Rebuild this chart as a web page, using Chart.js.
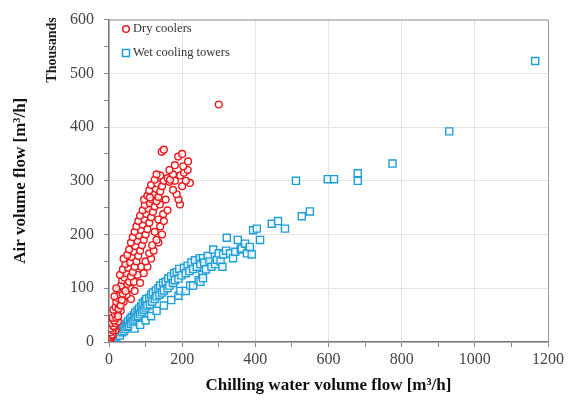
<!DOCTYPE html>
<html lang="en">
<head>
    <meta charset="utf-8" />
    <title>Air volume flow vs chilling water volume flow</title>
    <script src="https://cdn.jsdelivr.net/npm/chart.js"></script>
    <style>
        html, body { margin: 0; padding: 0; background: #fff; }
        #wrap { width: 571px; height: 408px; }
    </style>
</head>
<body>
    <div id="wrap"><canvas id="chart" width="571" height="408"></canvas></div>

    <script>
        // [chilling water m3/h, air volume flow (thousands m3/h)]
        const dryCoolers = [
            [0,0],[3,2],[2,5],[6,8],[4,10],[10,12],[8,14],[5,18],[18,22],[10,22],[6,25],[15,28],[12,30],[8,35],
            [18,35],[25,38],[14,40],[10,45],[20,45],[16,52],[32,58],[22,55],[25,48],[12,60],[18,65],[26,62],
            [28,70],[40,75],[20,75],[32,68],[60,80],[24,82],[30,88],[48,88],[35,78],[15,85],[38,90],[28,98],
            [40,100],[58,100],[33,105],[45,95],[20,100],[50,108],[70,95],[36,115],[42,120],[55,112],[68,112],
            [85,110],[30,125],[48,128],[60,122],[78,125],[95,128],[38,135],[52,138],[65,130],[88,140],[105,140],
            [45,145],[58,148],[70,140],[100,150],[115,155],[40,155],[62,158],[75,150],[50,162],[68,168],[80,160],
            [110,165],[122,170],[55,172],[72,178],[85,170],[118,180],[60,185],[78,188],[90,180],[135,185],
            [130,190],[65,195],[82,198],[95,190],[145,200],[70,205],[88,208],[100,200],[125,205],[75,215],
            [92,218],[105,210],[140,215],[80,225],[97,228],[110,222],[135,228],[150,225],[85,235],[102,238],
            [115,232],[148,238],[92,245],[108,248],[120,242],[160,245],[98,255],[112,258],[125,252],[139,256],
            [194,256],[96,265],[118,265],[130,262],[155,265],[190,265],[105,272],[122,275],[135,270],[112,269],
            [185,275],[110,282],[128,285],[140,280],[175,283],[115,292],[132,295],[145,290],[200,290],[125,302],
            [150,300],[165,298],[180,300],[221,296],[210,300],[140,310],[160,305],[167,302],[130,312],[175,312],
            [195,310],[205,315],[215,320],[165,320],[180,329],[203,327],[216,336],[189,345],[200,350],[144,354],
            [150,358],[300,442]
        ];
        const wetTowers = [
            [0,0],[2,2],[5,4],[8,8],[10,5],[12,10],[15,8],[18,14],[20,10],[22,18],[25,14],[28,20],[30,12],
            [32,24],[35,18],[38,26],[40,20],[42,30],[45,24],[48,34],[50,28],[52,38],[55,30],[58,42],[60,34],
            [62,46],[65,38],[68,50],[70,25],[70,42],[72,55],[75,46],[78,58],[80,48],[82,62],[85,32],[85,52],
            [88,66],[90,56],[92,72],[95,60],[98,76],[100,40],[100,64],[102,80],[105,68],[110,82],[112,70],
            [115,48],[115,88],[118,75],[120,92],[125,80],[128,96],[130,58],[130,85],[135,100],[138,88],
            [140,105],[145,92],[148,110],[150,68],[150,96],[155,112],[160,100],[162,118],[165,105],[170,78],
            [170,122],[175,110],[178,128],[180,115],[185,130],[190,86],[190,118],[192,136],[195,95],[198,124],
            [205,138],[210,95],[210,128],[215,142],[220,132],[222,105],[225,148],[230,105],[230,136],[235,152],
            [240,140],[245,115],[248,156],[250,112],[250,145],[255,125],[257,119],[257,156],[260,148],[265,135],
            [270,160],[275,150],[280,140],[285,172],[290,145],[295,153],[300,165],[305,150],[310,140],[312,163],
            [320,170],[322,194],[331,165],[339,156],[345,168],[352,190],[360,172],[363,174],[372,183],[377,165],
            [385,177],[390,163],[394,208],[404,211],[413,190],[445,220],[462,225],[481,211],[527,234],[549,243],
            [511,300],[598,303],[615,303],[680,314],[680,300],[775,332],[930,392],[1165,523]
        ];
        const seriesNames = ['Dry coolers', 'Wet cooling towers'];
        const xTicks = [0, 200, 400, 600, 800, 1000, 1200];
        const yTicks = [0, 100, 200, 300, 400, 500, 600];

        const red = '#e8191c';
        const blue = '#1e9ed8';
        const serif = '"Liberation Serif", "DejaVu Serif", serif';

        function toPoints(arr) {
            return arr.map(function (p) { return { x: p[0], y: p[1] }; });
        }

        // legend inside the plot + "Thousands" + top/right frame
        const extras = {
            id: 'extras',
            afterDraw: function (chart) {
                var ctx = chart.ctx;
                var a = chart.chartArea;
                ctx.save();
                ctx.strokeStyle = '#9a9a9a';
                ctx.lineWidth = 1;
                ctx.beginPath();
                ctx.moveTo(a.left, a.top + 0.5);
                ctx.lineTo(a.right + 0.5, a.top + 0.5);
                ctx.lineTo(a.right + 0.5, a.bottom);
                ctx.stroke();

                ctx.font = '12.5px ' + serif;
                ctx.fillStyle = '#333';
                ctx.textBaseline = 'middle';
                ctx.lineWidth = 1.5;
                ctx.strokeStyle = red;
                ctx.beginPath();
                ctx.arc(126, 29, 3.3, 0, Math.PI * 2);
                ctx.stroke();
                ctx.fillText(seriesNames[0], 133, 29);
                ctx.strokeStyle = blue;
                ctx.strokeRect(122.5, 49.5, 7, 7);
                ctx.fillText(seriesNames[1], 133, 53);

                ctx.translate(52, 50);
                ctx.rotate(-Math.PI / 2);
                ctx.textAlign = 'center';
                ctx.font = 'bold 14px ' + serif;
                ctx.fillStyle = '#222';
                ctx.fillText('Thousands', 0, 0);
                ctx.restore();
            }
        };

        new Chart(document.getElementById('chart'), {
            type: 'scatter',
            data: {
                datasets: [{
                    label: seriesNames[0],
                    data: toPoints(dryCoolers),
                    pointStyle: 'circle',
                    pointRadius: 3.4,
                    borderWidth: 1.4,
                    borderColor: red,
                    backgroundColor: 'rgba(255,255,255,0.75)'
                }, {
                    label: seriesNames[1],
                    data: toPoints(wetTowers),
                    pointStyle: 'rect',
                    pointRadius: 5,
                    borderWidth: 1.4,
                    borderColor: blue,
                    backgroundColor: 'rgba(255,255,255,0.75)'
                }]
            },
            options: {
                responsive: false,
                animation: false,
                layout: { padding: { top: 14, right: 23, left: 0, bottom: 0 } },
                plugins: {
                    legend: { display: false },
                    tooltip: { enabled: false }
                },
                scales: {
                    x: {
                        type: 'linear',
                        min: 0,
                        max: 1200,
                        afterFit: function (s) { s.height = 66; },
                        afterBuildTicks: function (s) {
                            var t = [];
                            for (var v = 0; v <= 1200; v += 100) t.push({ value: v });
                            s.ticks = t;
                        },
                        ticks: {
                            padding: 3,
                            autoSkip: false,
                            maxRotation: 0,
                            minRotation: 0,
                            color: '#444',
                            font: { family: serif, size: 16 },
                            callback: function (v) { return xTicks.indexOf(v) >= 0 ? String(v) : ''; }
                        },
                        grid: {
                            color: function (c) { return c.tick && c.tick.value % 200 === 0 ? '#e4e4e4' : 'rgba(0,0,0,0)'; },
                            tickColor: '#888',
                            tickLength: 5
                        },
                        border: { color: '#777', width: 1.5 },
                        title: {
                            display: true,
                            text: 'Chilling water volume flow [m\u00b3/h]',
                            color: '#111',
                            font: { family: serif, size: 17, weight: 'bold' },
                            padding: { top: 0, bottom: 12 }
                        }
                    },
                    y: {
                        type: 'linear',
                        min: 0,
                        max: 600,
                        afterFit: function (s) { s.width = 109; },
                        afterBuildTicks: function (s) {
                            var t = [];
                            for (var v = 0; v <= 600; v += 50) t.push({ value: v });
                            s.ticks = t;
                        },
                        ticks: {
                            padding: 10,
                            autoSkip: false,
                            color: '#444',
                            font: { family: serif, size: 16 },
                            callback: function (v) { return yTicks.indexOf(v) >= 0 ? String(v) : ''; }
                        },
                        grid: {
                            color: function (c) { return c.tick && c.tick.value % 100 === 0 ? '#e4e4e4' : 'rgba(0,0,0,0)'; },
                            tickColor: '#888',
                            tickLength: 5
                        },
                        border: { color: '#777', width: 1.5 },
                        title: {
                            display: true,
                            text: 'Air volume flow [m\u00b3/h]',
                            color: '#111',
                            font: { family: serif, size: 17, weight: 'bold' },
                            padding: { top: 10, bottom: 0 }
                        }
                    }
                }
            },
            plugins: [extras]
        });
    </script>
</body>
</html>
